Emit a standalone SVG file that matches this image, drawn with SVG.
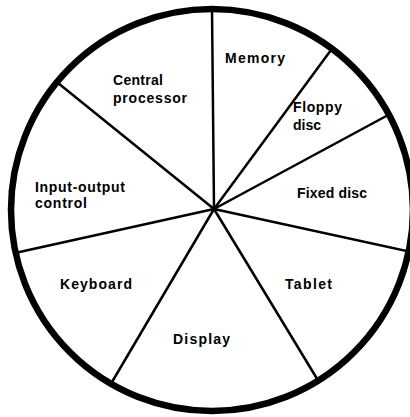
<svg xmlns="http://www.w3.org/2000/svg" width="410" height="417" viewBox="0 0 410 417">
<style>
.rim{fill:none;stroke:#000;stroke-width:6.5}
.spoke{stroke:#000;stroke-width:2.5;stroke-linecap:round}
.lbl{font-family:"Liberation Sans",Arial,Helvetica,sans-serif;font-weight:bold;font-size:14px;fill:#000}
</style>
<rect width="410" height="417" fill="#fff"/>
<g id="connectors">
<line class="spoke" x1="214" y1="209" x2="212" y2="9"/>
<line class="spoke" x1="214" y1="209" x2="331" y2="50"/>
<line class="spoke" x1="214" y1="209" x2="390" y2="114"/>
<line class="spoke" x1="214" y1="209" x2="411" y2="252"/>
<line class="spoke" x1="214" y1="209" x2="319" y2="382"/>
<line class="spoke" x1="214" y1="209" x2="112" y2="382"/>
<line class="spoke" x1="214" y1="209" x2="15" y2="253"/>
<line class="spoke" x1="214" y1="209" x2="58" y2="83"/>
<circle class="rim" cx="212" cy="210" r="201"/>
</g>
<g id="memory"><text class="lbl" x="225" y="63" textLength="60" lengthAdjust="spacing">Memory</text></g>
<g id="floppy"><text class="lbl" x="293" y="112" textLength="49" lengthAdjust="spacing">Floppy</text><text class="lbl" x="293" y="130">disc</text></g>
<g id="fixed"><text class="lbl" x="297" y="198" textLength="70" lengthAdjust="spacing">Fixed disc</text></g>
<g id="tablet"><text class="lbl" x="285" y="289" textLength="47" lengthAdjust="spacing">Tablet</text></g>
<g id="display"><text class="lbl" x="173" y="344" textLength="57" lengthAdjust="spacing">Display</text></g>
<g id="keyboard"><text class="lbl" x="60" y="289" textLength="72" lengthAdjust="spacing">Keyboard</text></g>
<g id="io"><text class="lbl" x="35" y="192" textLength="90" lengthAdjust="spacing">Input-output</text><text class="lbl" x="35" y="208" textLength="52" lengthAdjust="spacing">control</text></g>
<g id="cpu"><text class="lbl" x="113" y="85" textLength="50" lengthAdjust="spacing">Central</text><text class="lbl" x="113" y="103" textLength="74" lengthAdjust="spacing">processor</text></g>
</svg>
